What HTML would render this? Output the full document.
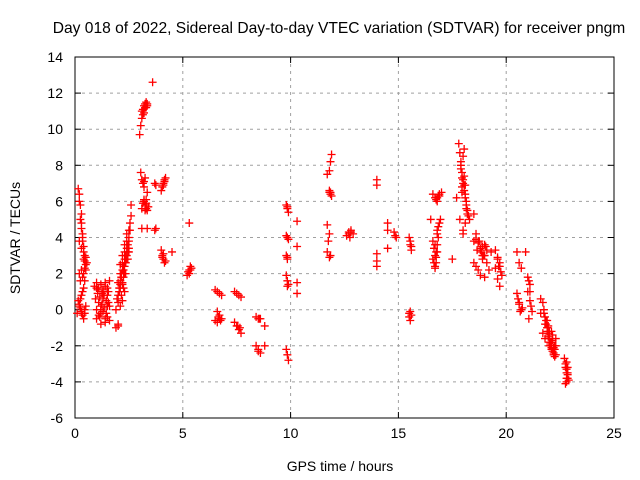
<!DOCTYPE html>
<html><head><meta charset="utf-8">
<style>
body{margin:0;background:#fff;}
svg{display:block;font-family:"Liberation Sans",sans-serif;}
</style></head>
<body>
<svg id="chart" width="640" height="480" viewBox="0 0 640 480">
<text x="339" y="33" font-size="15.6" text-anchor="middle">Day 018 of 2022, Sidereal Day-to-day VTEC variation (SDTVAR) for receiver pngm</text>
<g id="grid"></g>
<g id="axes"></g>
<g id="points"></g>
<text x="340" y="471" font-size="14" text-anchor="middle">GPS time / hours</text>
<text transform="translate(20,238) rotate(-90)" font-size="14" text-anchor="middle">SDTVAR / TECUs</text>
</svg>
<script>
const xTicks=[0,5,10,15,20,25];
const yTicks=[-6,-4,-2,0,2,4,6,8,10,12,14];
const hours=[0.15,0.2,0.2,0.25,0.25,0.3,0.3,0.35,0.35,0.4,0.4,0.45,0.45,0.5,0.5,0.55,0.2,0.3,0.35,0.4,0.2,0.25,0.15,0.2,0.25,0.3,0.35,0.4,0.45,0.5,0.1,0.4,0.45,0.3,0.35,
0.9,1.0,1.1,1.2,1.3,1.4,1.5,1.6,0.95,1.05,1.15,1.25,1.35,1.45,1.55,1.0,1.1,1.2,1.3,1.4,1.5,1.6,1.0,1.2,1.4,1.5,1.3,1.5,1.6,1.2,
1.9,2.0,2.0,2.05,2.1,2.1,2.15,2.2,2.2,2.25,2.3,2.3,2.35,2.4,2.4,2.45,2.5,2.5,2.55,2.6,2.6,2.0,2.1,2.2,2.3,2.4,2.5,1.95,2.05,2.15,2.25,2.35,2.0,2.0,1.9,2.1,2.2,2.3,
3.0,3.05,3.1,3.1,3.15,3.2,3.25,3.3,3.35,3.6,
3.05,3.1,3.15,3.2,3.25,3.3,3.1,3.2,3.3,3.4,3.1,3.2,3.35,3.35,3.7,3.75,3.7,3.75,
4.0,4.05,4.1,4.15,4.2,4.0,4.05,4.1,4.15,4.2,4.5,
5.2,5.25,5.3,5.35,5.4,5.3,
6.5,6.6,6.7,6.8,6.6,6.7,6.8,6.5,6.6,6.7,
7.4,7.5,7.6,7.7,7.4,7.5,7.6,7.7,
8.4,8.5,8.6,8.4,8.5,8.6,8.8,8.8,
9.8,9.85,9.9,9.8,9.9,9.8,9.85,9.8,9.9,9.85,9.8,9.85,9.9,
10.3,10.3,10.3,10.3,
11.7,11.8,11.85,11.9,11.8,11.85,11.9,11.7,11.75,11.8,11.7,11.8,11.85,
12.6,12.7,12.8,12.9,12.75,
14.0,14.0,14.0,14.0,14.0,14.5,14.5,14.5,14.8,14.85,14.9,
15.5,15.55,15.6,15.55,15.5,15.55,15.6,
16.6,16.7,16.8,16.9,17.0,16.6,16.65,16.7,16.75,16.8,16.85,16.9,16.95,16.7,16.8,16.6,16.5,
17.5,17.8,17.85,17.9,17.95,18.0,18.05,18.1,18.15,18.2,18.0,18.1,17.9,17.95,18.0,17.85,17.7,
18.5,18.5,18.6,18.7,18.8,18.9,19.0,19.1,19.2,18.6,18.8,18.9,19.0,18.5,18.7,19.1,19.3,
19.5,19.6,19.7,19.8,19.6,19.7,19.5,
20.5,20.6,20.7,20.5,20.6,20.7,20.55,20.9,21.0,21.1,21.0,21.1,21.2,21.05,
21.6,21.7,21.75,21.8,21.85,21.9,21.95,22.0,22.05,22.1,22.15,22.2,22.25,22.3,21.7,21.8,21.9,22.0,22.1,22.2,21.8,22.0,21.6,
22.7,22.75,22.8,22.85,22.9,22.75,22.8,22.85,
0.3,0.4,0.45,0.5,0.35,0.25,0.3,0.45,0.2,0.3,
1.0,1.1,1.3,1.4,1.5,1.2,1.35,1.45,1.05,1.25,1.55,1.15,
2.1,2.15,2.2,2.25,2.3,2.35,2.4,2.45,2.5,2.55,2.2,2.3,2.4,2.35,2.45,2.5,2.25,2.15,2.05,2.1,
3.15,3.2,3.25,3.3,3.35,3.15,3.2,3.25,3.3,3.35,3.25,3.3,
4.1,4.15,4.05,4.1,5.3,5.35,6.65,6.75,7.55,7.65,8.5,8.55,
9.85,9.85,9.85,9.85,11.8,11.85,12.7,12.8,15.55,15.6,15.5,
16.75,16.8,16.85,16.9,16.7,16.75,16.85,16.8,16.7,16.75,16.8,16.65,
17.9,17.95,18.0,18.05,18.1,18.15,18.2,18.25,18.3,18.05,18.1,18.15,18.0,18.05,17.95,
18.6,18.7,18.8,18.9,19.0,18.75,18.85,18.95,19.05,18.65,19.6,19.7,19.75,19.65,
20.6,20.65,20.75,21.05,21.15,21.1,
21.75,21.85,21.9,21.95,22.0,22.05,22.1,22.15,22.2,22.25,22.3,22.1,22.15,22.2,22.0,22.05,21.95,21.9,22.25,22.3,
22.75,22.8,22.85,22.8,22.85,22.8];
const sdtvar=[6.7,6.4,6.0,5.8,5.0,4.8,4.5,4.2,3.8,3.5,3.2,3.0,2.7,2.5,2.2,2.6,3.8,2.2,1.8,1.2,2.0,1.6,0.5,0.3,0.1,-0.1,-0.3,-0.5,-0.2,0.2,-0.2,2.0,1.6,5.3,4.0,
1.3,1.5,1.2,1.4,1.0,1.5,1.2,1.6,0.6,0.9,0.7,0.3,0.8,0.5,1.0,0.0,-0.3,0.2,-0.1,-0.5,-0.4,-0.6,-0.5,-0.8,-0.7,0.2,1.1,0.8,0.2,0.0,
0.0,0.4,0.8,1.2,1.6,2.0,1.8,2.2,2.6,2.4,2.8,3.2,3.0,3.4,3.8,3.6,4.0,4.4,4.8,5.2,5.8,1.5,2.5,1.5,2.0,2.8,3.4,0.6,1.0,1.8,2.2,2.6,-0.9,-0.8,-1.0,0.2,0.5,1.0,
9.7,10.2,10.6,11.0,11.1,11.3,11.4,11.5,11.3,12.6,
7.6,7.2,7.0,6.8,5.5,5.8,5.6,6.0,5.9,5.7,4.5,7.1,4.5,6.5,4.4,4.5,7.0,6.9,
6.6,6.8,7.0,7.2,7.3,3.3,3.0,2.8,2.6,2.7,3.2,
1.9,2.1,2.2,2.4,2.3,4.8,
1.1,1.0,0.9,0.8,-0.1,-0.3,-0.5,-0.6,-0.7,-0.5,
1.0,0.9,0.8,0.7,-0.7,-0.9,-1.1,-1.3,
-0.4,-0.5,-0.5,-2.0,-2.2,-2.4,-0.9,-2.0,
5.8,5.6,5.4,4.1,3.9,3.0,2.8,1.9,1.4,1.3,-2.2,-2.5,-2.8,
4.9,3.5,1.5,0.9,
7.5,7.7,8.2,8.6,6.6,6.4,6.3,4.7,3.8,4.2,3.2,2.9,3.0,
4.1,4.3,4.4,4.2,4.0,
7.2,6.9,3.1,2.7,2.4,4.8,4.4,3.4,4.3,4.1,4.0,
4.0,3.6,3.3,-0.1,-0.4,-0.6,-0.3,
6.4,6.2,6.0,6.3,6.5,3.8,3.4,3.0,2.6,4.4,4.0,4.8,5.0,2.4,3.2,2.8,5.0,
2.8,9.2,8.7,8.2,7.6,7.0,6.6,6.2,5.8,5.3,4.4,4.8,8.0,6.8,4.2,5.0,6.2,
5.3,3.8,4.2,3.8,3.3,3.0,3.6,2.6,2.2,2.4,1.9,2.8,1.8,2.6,2.2,3.3,3.2,
3.3,2.8,2.4,1.9,1.7,1.3,2.3,
3.2,2.6,2.3,0.9,0.4,0.0,0.6,3.2,1.8,1.4,1.0,0.5,-0.1,-0.5,
0.6,0.4,0.0,-0.4,-0.8,-1.2,-1.5,-1.8,-2.0,-2.2,-2.3,-2.5,-2.0,-1.6,-1.3,-0.8,-1.0,-1.4,-1.8,-2.2,-1.6,-2.0,-0.2,
-2.7,-3.0,-3.3,-3.6,-3.9,-4.1,-3.8,-3.5,
3.4,2.8,2.3,2.9,1.0,0.6,-0.2,0.0,0.2,0.8,
1.2,0.4,0.6,1.3,0.2,-0.2,0.1,-0.2,1.1,0.9,0.4,-0.4,
1.4,2.0,1.4,1.8,2.4,2.6,3.0,3.2,3.8,4.4,3.0,3.6,4.2,2.0,2.8,3.2,1.2,0.8,1.0,1.2,
10.8,10.9,11.2,11.2,11.4,5.9,6.1,5.8,5.6,5.5,7.3,6.1,
6.9,7.1,2.9,3.1,2.0,2.2,-0.4,-0.6,-0.9,-1.0,-2.3,-0.5,
5.7,4.0,2.9,1.6,6.5,6.5,4.2,4.3,3.8,3.5,-0.2,
6.1,6.2,6.3,6.4,3.6,3.2,4.6,4.2,2.3,2.9,3.6,2.6,
7.8,7.3,7.2,6.9,6.4,6.0,5.5,5.2,5.0,7.4,6.9,5.6,8.5,8.9,6.5,
3.9,3.7,3.4,3.5,3.0,3.8,3.2,3.0,3.5,3.3,2.9,2.6,2.1,2.4,
0.3,-0.1,0.1,1.6,0.2,1.0,
-0.2,-0.6,-1.0,-1.3,-1.6,-1.9,-2.1,-1.7,-2.4,-2.2,-2.5,-1.2,-1.4,-2.1,-1.2,-1.8,-0.9,-0.6,-2.6,-2.0,
-3.2,-3.5,-3.8,-4.0,-3.2,-2.9];
const X0=75,X1=614,Y0=418,Y1=57;
function sx(v){return X0+(v-0)/(25-0)*(X1-X0);}
function sy(v){return Y0-(v-(-6))/(14-(-6))*(Y0-Y1);}
const NS="http://www.w3.org/2000/svg";
function mk(t,a,p){const e=document.createElementNS(NS,t);for(const k in a)e.setAttribute(k,a[k]);p.appendChild(e);return e;}
const grid=document.getElementById('grid'),axes=document.getElementById('axes'),pts=document.getElementById('points');
xTicks.forEach(t=>{const x=sx(t);
 if(t>0&&t<25){const g=mk('line',{x1:x,x2:x,y1:Y1,y2:Y0,stroke:'#a0a0a0','stroke-dasharray':'3,4'},grid);
 }
 mk('line',{x1:x,x2:x,y1:Y0,y2:Y0-6,stroke:'#000'},axes);mk('line',{x1:x,x2:x,y1:Y1,y2:Y1+6,stroke:'#000'},axes);
 const l=mk('text',{x:x,y:Y0+20,'font-size':14,'text-anchor':'middle'},axes);l.textContent=t;
 });
yTicks.forEach(t=>{const y=sy(t);
 if(t>-6&&t<14){const g=mk('line',{x1:X0,x2:X1,y1:y,y2:y,stroke:'#a0a0a0','stroke-dasharray':'3,4'},grid);
 }
 mk('line',{x1:X0,x2:X0+6,y1:y,y2:y,stroke:'#000'},axes);mk('line',{x1:X1,x2:X1-6,y1:y,y2:y,stroke:'#000'},axes);
 const l=mk('text',{x:X0-12,y:y+5,'font-size':14,'text-anchor':'end'},axes);l.textContent=t;
 });
const frame=mk('rect',{x:X0,y:Y1,width:X1-X0,height:Y0-Y1,fill:'none',stroke:'#000'},axes);


hours.forEach((h,i)=>{const x=sx(h),y=sy(sdtvar[i]);
 const p=mk('path',{d:`M${x-4},${y}H${x+4}M${x},${y-4}V${y+4}`,stroke:'#f00','stroke-width':1.3,fill:'none'},pts);
 
 });
</script>
</body></html>
